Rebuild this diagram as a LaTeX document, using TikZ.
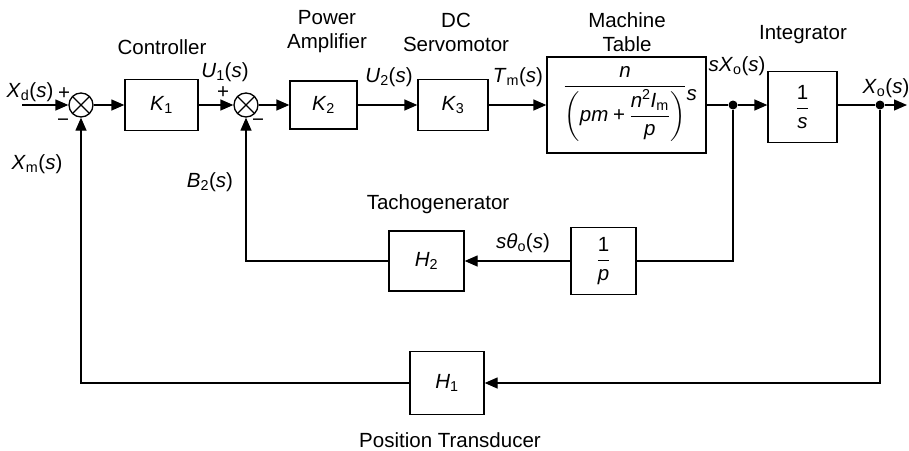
\documentclass[tikz,border=0pt]{standalone}
\usepackage{amsmath}
\usepackage{fontspec}
\setmainfont{Liberation Sans}
\usetikzlibrary{arrows.meta}
\newcommand{\sgl}[3]{\textit{#1}\textsubscript{#2}(\textit{#3})}
\newcommand{\gain}[2]{\textit{#1}\textsubscript{#2}}
\begin{document}
\begin{tikzpicture}[x=1pt,y=-1pt,
  every node/.style={font=\fontsize{20.5}{24}\selectfont},
  line width=1.3pt,
  blk/.style={draw, inner sep=0pt, line width=1.3pt},
  sumc/.style={draw, circle, minimum size=24pt, inner sep=0pt,
    path picture={\draw[line width=1.3pt] (path picture bounding box.north west) -- (path picture bounding box.south east)
      (path picture bounding box.north east) -- (path picture bounding box.south west);}},
  jdot/.style={fill, circle, minimum size=9pt, inner sep=0pt},
  arr/.style={-{Triangle[length=13pt,width=11pt]}},
  lbl/.style={inner sep=0pt, align=center}]
\useasboundingbox (0,0) rectangle (909,450);

% forward path
\coordinate (in) at (22,105);
\node[sumc] (s1) at (81,105) {};
\node[blk, minimum width=73pt, minimum height=51pt] (k1) at (161.5,105) {\gain{K}{1}};
\node[sumc] (s2) at (246,105) {};
\node[blk, minimum width=67pt, minimum height=48pt] (k2) at (323.5,105) {\gain{K}{2}};
\node[blk, minimum width=70pt, minimum height=51pt] (k3) at (453,105) {\gain{K}{3}};
\node[blk, minimum width=159pt, minimum height=96pt] (mt) at (626.5,105) {};
\node[inner sep=0pt] (mtf) at (625,104) {$\dfrac{\textit{n}}{\left(\textit{pm}\mathbin{\text{+}}\dfrac{\textit{n}^{\text{2}}\textit{I}_{\text{m}}}{\textit{p}}\right)}\rlap{\raisebox{-8pt}{\textit{s}}}$};
\node[jdot] (d1) at (733,105) {};
\node[blk, minimum width=69pt, minimum height=71pt] (int) at (802.5,107) {$\dfrac{\text{1}}{\textit{s}}$};
\node[jdot] (d2) at (880,105) {};
\coordinate (out) at (907,105);

% feedback
\node[blk, minimum width=75pt, minimum height=60pt] (h2) at (426.5,261) {\gain{H}{2}};
\node[blk, minimum width=65pt, minimum height=67pt] (p) at (603.5,261) {$\dfrac{\text{1}}{\textit{p}}$};
\node[blk, minimum width=74pt, minimum height=63pt] (h1) at (447,383) {\gain{H}{1}};

% connectors
\draw[arr] (in) -- (s1);
\draw[arr] (s1) -- (k1);
\draw[arr] (k1) -- (s2);
\draw[arr] (s2) -- (k2);
\draw[arr] (k2) -- (k3);
\draw[arr] (k3) -- (mt);
\draw (mt.east |- d1) -- (d1);
\draw[arr] (d1) -- (int.west |- d1);
\draw (int.east |- d2) -- (d2);
\draw[arr] (d2) -- (out);
\draw (d1) |- (p);
\draw[arr] (p) -- (h2);
\draw[arr] (h2) -| (s2);
\draw[arr] (d2) |- (h1);
\draw[arr] (h1) -| (s1);

% labels
\node[lbl] (lxd) at (30,92) {\sgl{X}{d}{s}};
\node[lbl] (p1) at (64,94) {+};
\node[lbl] (m1) at (63,123) {\textminus};
\node[lbl] (lxm) at (37,164) {\sgl{X}{m}{s}};
\node[lbl] (lc) at (162,47) {Controller};
\node[lbl] (lu1) at (225,72) {\sgl{U}{1}{s}};
\node[lbl] (p2) at (223,93) {+};
\node[lbl] (m2) at (258,123) {\textminus};
\node[lbl] (lb2) at (210,182) {\sgl{B}{2}{s}};
\node[lbl] (lpa) at (327,32) {Power\\Amplifier};
\node[lbl] (lu2) at (389,77) {\sgl{U}{2}{s}};
\node[lbl] (ldc) at (456,32) {DC\\Servomotor};
\node[lbl] (ltm) at (518,77) {\sgl{T}{m}{s}};
\node[lbl] (lmt) at (627,32) {Machine\\Table};
\node[lbl] (lsx) at (737,66) {\textit{s}\sgl{X}{o}{s}};
\node[lbl] (lint) at (803,35) {Integrator};
\node[lbl] (lxo) at (886,88) {\sgl{X}{o}{s}};
\node[lbl] (ltg) at (438,204) {Tachogenerator};
\node[lbl] (lst) at (523,243) {\textit{s}\sgl{θ}{o}{s}};
\node[lbl] (lpt) at (450,440) {Position Transducer};
\end{tikzpicture}
\end{document}
